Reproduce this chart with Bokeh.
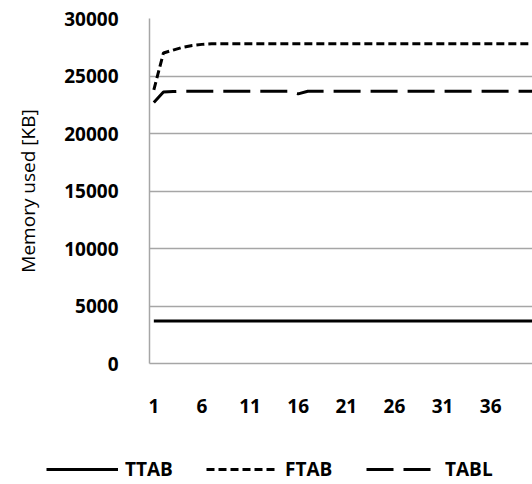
from bokeh.plotting import figure
from bokeh.models import Range1d, FixedTicker, Legend, LegendItem
from bokeh.layouts import column, row
from bokeh.embed import file_html
from bokeh.resources import INLINE

# ---- data ----
x = list(range(1, 42))
ttab = [3700] * 41
ftab = [23800, 27000, 27250, 27500, 27650, 27750] + [27800] * 35
tabl = [22700, 23600, 23650] + [23680] * 11 + [23680, 23450] + [23680] * 25
x_ticks = [1, 6, 11, 16, 21, 26, 31, 36]
y_ticks = [0, 5000, 10000, 15000, 20000, 25000, 30000]
series_names = ["TTAB", "FTAB", "TABL"]
series_dash = ["solid", "8 4", "27 10"]

GRID = "#a6a6a6"
FONT = "Open Sans"

p = figure(width=532, height=440, output_backend="svg", toolbar_location=None,
           x_range=Range1d(0.55, 40.35), y_range=Range1d(0, 30000),
           min_border_left=149, min_border_top=18, min_border_right=0,
           min_border_bottom=77)
p.outline_line_color = None
p.background_fill_color = "white"
p.border_fill_color = "white"

p.xgrid.grid_line_color = None
p.ygrid.grid_line_color = GRID
p.ygrid.grid_line_width = 1.5
p.yaxis.ticker = FixedTicker(ticks=y_ticks)
p.xaxis.ticker = FixedTicker(ticks=x_ticks)

for ax in (p.xaxis[0], p.yaxis[0]):
    ax.axis_line_color = GRID
    ax.axis_line_width = 1.5
    ax.major_tick_line_color = None
    ax.minor_tick_line_color = None
    ax.major_label_text_font = FONT
    ax.major_label_text_font_size = "19px"
    ax.major_label_text_font_style = "bold"
    ax.major_label_text_color = "black"

p.yaxis.major_label_standoff = 25
p.xaxis.major_label_standoff = 29
p.yaxis.axis_label = "Memory used [KB]"
p.yaxis.axis_label_text_font = FONT
p.yaxis.axis_label_text_font_size = "19px"
p.yaxis.axis_label_text_font_style = "normal"
p.yaxis.axis_label_text_color = "black"
p.yaxis.axis_label_standoff = 20

for ys, dash in zip([ttab, ftab, tabl], series_dash):
    p.line(x, ys, line_color="black", line_width=3, line_dash=dash)

# legend strip below the chart (its own small figure)
lg = figure(width=532, height=44, output_backend="svg", toolbar_location=None,
            x_range=Range1d(0, 1), y_range=Range1d(0, 1),
            min_border_left=0, min_border_right=0, min_border_top=0,
            min_border_bottom=0)
lg.axis.visible = False
lg.grid.visible = False
lg.outline_line_color = None
items = []
for name, dash in zip(series_names, series_dash):
    r = lg.line([-1, -1], [-1, -1], line_color="black", line_width=3, line_dash=dash)
    items.append(LegendItem(label=name, renderers=[r]))
legend = Legend(items=items, orientation="horizontal", location=(46, 2),
                glyph_width=72, glyph_height=20, label_standoff=7,
                label_width=51, spacing=30, padding=2, margin=0,
                border_line_color=None, background_fill_alpha=0,
                label_text_font=FONT, label_text_font_size="19px",
                label_text_font_style="bold",
                label_text_color="black")
lg.add_layout(legend, "center")

open("out.html", "w").write(file_html(column(p, row(lg)), INLINE))
